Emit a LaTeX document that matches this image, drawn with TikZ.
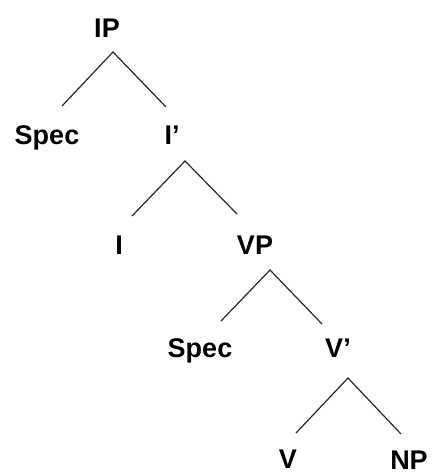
\documentclass[tikz,border=0pt]{standalone}
\usepackage{fontspec}
\setmainfont{Liberation Sans}
\begin{document}
\begin{tikzpicture}[x=1pt,y=-1pt,
  lbl/.style={inner sep=0pt,outer sep=0pt,text height=20pt,text depth=0pt,font=\fontsize{27}{30}\selectfont\bfseries},
  edge/.style={line width=1.2pt,black!85}]
\useasboundingbox (0,0) rectangle (433,474);
\node[lbl] (ip) at (107,27) {IP};
\node[lbl] (spec1) at (47,134) {Spec};
\node[lbl] (ibar) at (172,134) {I’};
\node[lbl] (i) at (119,244) {I};
\node[lbl] (vp) at (255,244) {VP};
\node[lbl] (spec2) at (200,347) {Spec};
\node[lbl] (vbar) at (338,347) {V’};
\node[lbl] (v) at (288,458) {V};
\node[lbl] (np) at (409,459) {NP};
\draw[edge] ([shift={(15,-18)}]spec1.north) -- ([shift={(6,15)}]ip.south) -- ([shift={(-6,-17)}]ibar.north);
\draw[edge] ([shift={(13,-18)}]i.north) -- ([shift={(13,17)}]ibar.south) -- ([shift={(-18,-20)}]vp.north);
\draw[edge] ([shift={(21,-16)}]spec2.north) -- ([shift={(15,16)}]vp.south) -- ([shift={(-16,-13)}]vbar.north);
\draw[edge] ([shift={(8,-15)}]v.north) -- ([shift={(10,21)}]vbar.south) -- ([shift={(-8,-15)}]np.north);
\end{tikzpicture}
\end{document}
